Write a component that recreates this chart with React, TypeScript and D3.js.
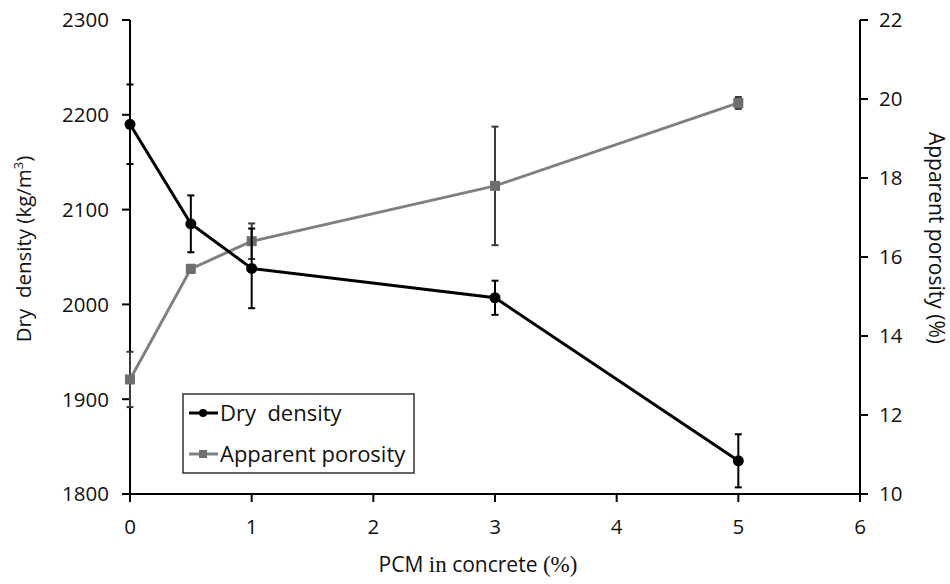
import React from "react";
import * as d3 from "d3";

const pcm = [0, 0.5, 1, 3, 5];
const dryDensity = [2190, 2085, 2038, 2007, 1835];
const dryDensityErr = [42, 30, 42, 18, 28];
const porosity = [12.9, 15.7, 16.4, 17.8, 19.9];
const porosityErr = [0.7, 0.1, 0.45, 1.5, 0.15];
const xTicks = [0, 1, 2, 3, 4, 5, 6];
const leftTicks = [1800, 1900, 2000, 2100, 2200, 2300];
const rightTicks = [10, 12, 14, 16, 18, 20, 22];

const W = 950;
const H = 584;
const x = d3.scaleLinear().domain([0, 6]).range([130, 860]);
const yL = d3.scaleLinear().domain([1800, 2300]).range([494, 20]);
const yR = d3.scaleLinear().domain([10, 22]).range([494, 20]);

const FONT = "'Open Sans', 'Noto Sans', sans-serif";
const SERIF = "'Liberation Serif', serif";

export default function App() {
  const lineL = d3.line<number>().x((_, i) => x(pcm[i])).y((d) => yL(d));
  const lineR = d3.line<number>().x((_, i) => x(pcm[i])).y((d) => yR(d));
  const grayLine = "#808080";
  const grayMark = "#6e6e6e";
  return (
    <svg width={W} height={H} style={{ display: "block", position: "absolute", left: 0, top: 0 }} fontFamily={FONT}>
      <rect width={W} height={H} fill="#fff" />
      {/* axes */}
      <line x1={130} x2={130} y1={20} y2={494} stroke="#000" strokeWidth={2} />
      <line x1={860} x2={860} y1={20} y2={494} stroke="#000" strokeWidth={2} />
      <line x1={130} x2={860} y1={494} y2={494} stroke="#000" strokeWidth={2} />
      {leftTicks.map((t) => (
        <g key={"l" + t}>
          <line x1={122} x2={130} y1={yL(t)} y2={yL(t)} stroke="#000" strokeWidth={2} />
          <text x={109} y={yL(t)} dy="0.36em" textAnchor="end" fontSize={20.5} fill="#111">{t}</text>
        </g>
      ))}
      {rightTicks.map((t) => (
        <g key={"r" + t}>
          <line x1={860} x2={868} y1={yR(t)} y2={yR(t)} stroke="#000" strokeWidth={2} />
          <text x={879} y={yR(t)} dy="0.36em" textAnchor="start" fontSize={20.5} fill="#111">{t}</text>
        </g>
      ))}
      {xTicks.map((t) => (
        <g key={"x" + t}>
          <line x1={x(t)} x2={x(t)} y1={494} y2={502} stroke="#000" strokeWidth={2} />
          <text x={x(t)} y={527} dy="0.36em" textAnchor="middle" fontSize={20.5} fill="#111">{t}</text>
        </g>
      ))}
      {/* axis titles */}
      <text x={478} y={572} textAnchor="middle" fontSize={21} fill="#111">
        <tspan>PCM </tspan>
        <tspan fontFamily={SERIF} fontSize={23}>in</tspan>
        <tspan> concrete </tspan>
        <tspan fontFamily={SERIF} fontSize={23}>(%)</tspan>
      </text>
      <text transform="translate(31,249) rotate(-90)" textAnchor="middle" fontSize={20.5} fill="#111">
        {"Dry\u00a0 density (kg/m"}<tspan dy={-8} fontSize={13}>3</tspan><tspan dy={8}>)</tspan>
      </text>
      <text transform="translate(929,238) rotate(90)" textAnchor="middle" fontSize={21} fill="#111">
        Apparent porosity (%)
      </text>
      {/* porosity series */}
      <path d={lineR(porosity) || ""} fill="none" stroke={grayLine} strokeWidth={3} />
      {porosity.map((v, i) => (
        <g key={"pe" + i} stroke="#3a3a3a" strokeWidth={2}>
          <line x1={x(pcm[i])} x2={x(pcm[i])} y1={yR(v + porosityErr[i])} y2={yR(v - porosityErr[i])} />
          <line x1={x(pcm[i]) - 3.5} x2={x(pcm[i]) + 3.5} y1={yR(v + porosityErr[i])} y2={yR(v + porosityErr[i])} />
          <line x1={x(pcm[i]) - 3.5} x2={x(pcm[i]) + 3.5} y1={yR(v - porosityErr[i])} y2={yR(v - porosityErr[i])} />
        </g>
      ))}
      {porosity.map((v, i) => (
        <rect key={"pm" + i} x={x(pcm[i]) - 5} y={yR(v) - 5} width={10} height={10} fill={grayMark} />
      ))}
      {/* dry density series */}
      <path d={lineL(dryDensity) || ""} fill="none" stroke="#000" strokeWidth={3} />
      {dryDensity.map((v, i) => (
        <g key={"de" + i} stroke="#000" strokeWidth={2}>
          <line x1={x(pcm[i])} x2={x(pcm[i])} y1={yL(v + dryDensityErr[i])} y2={yL(v - dryDensityErr[i])} />
          <line x1={x(pcm[i]) - 3.5} x2={x(pcm[i]) + 3.5} y1={yL(v + dryDensityErr[i])} y2={yL(v + dryDensityErr[i])} />
          <line x1={x(pcm[i]) - 3.5} x2={x(pcm[i]) + 3.5} y1={yL(v - dryDensityErr[i])} y2={yL(v - dryDensityErr[i])} />
        </g>
      ))}
      {dryDensity.map((v, i) => (
        <circle key={"dm" + i} cx={x(pcm[i])} cy={yL(v)} r={5.5} fill="#000" />
      ))}
      {/* legend */}
      <rect x={183} y={394} width={231} height={79} fill="#fff" stroke="#333" strokeWidth={1.5} />
      <line x1={189} x2={218} y1={413} y2={413} stroke="#000" strokeWidth={3} />
      <circle cx={203} cy={413} r={4} fill="#000" />
      <text x={220} y={413} dy="0.36em" fontSize={22} fill="#111">{"Dry\u00a0 density"}</text>
      <line x1={189} x2={218} y1={454} y2={454} stroke={grayLine} strokeWidth={3} />
      <rect x={199} y={450} width={8} height={8} fill={grayMark} />
      <text x={220} y={454} dy="0.36em" fontSize={22} fill="#111">Apparent porosity</text>
    </svg>
  );
}
